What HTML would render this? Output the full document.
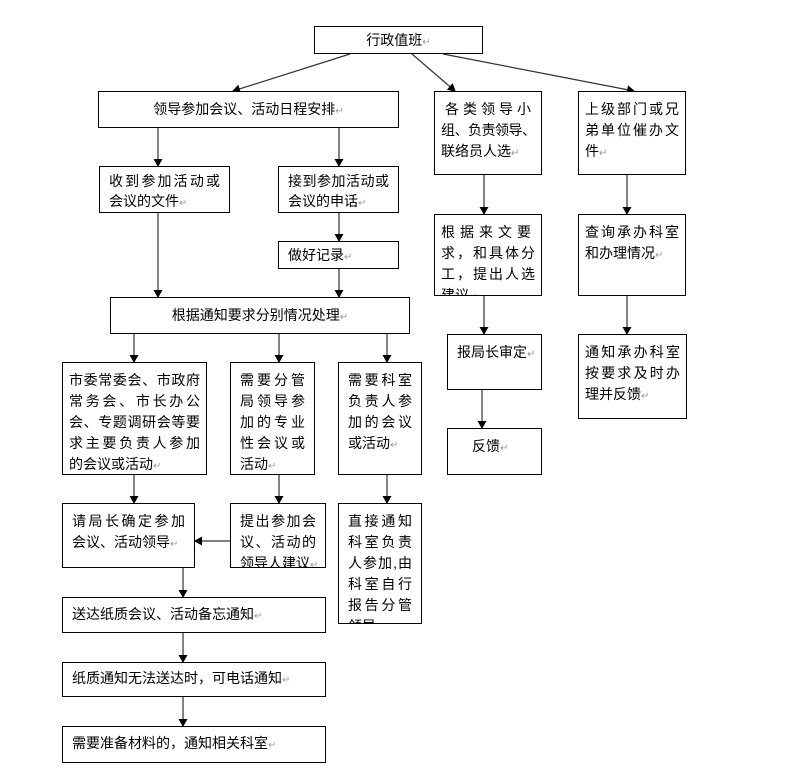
<!DOCTYPE html>
<html><head><meta charset="utf-8"><style>
body{margin:0;width:795px;height:778px;background:#fff;position:relative;overflow:hidden;font-family:"Liberation Sans","Noto Sans CJK SC","WenQuanYi Zen Hei",sans-serif;font-size:14px;color:#000}
.b{position:absolute;border:1.3px solid #000;box-sizing:border-box;background:#fff;line-height:21px;padding:7px 9px 0 9px;overflow:hidden;white-space:nowrap}
.b div{white-space:nowrap}
.n{padding-left:6px;padding-right:6px}
.j{text-align:justify;text-align-last:justify}
.r{color:#999;font-size:10px}
svg{position:absolute;left:0;top:0}
</style></head><body>
<svg width="795" height="778">
<defs><marker id="a" markerWidth="8" markerHeight="9" refX="7" refY="4.5" orient="auto" markerUnits="userSpaceOnUse"><path d="M0,0L8,4.5L0,9z" fill="#000"/></marker></defs>
<g stroke="#333" stroke-width="1.2" fill="none" marker-end="url(#a)">
<line x1="350" y1="54" x2="233" y2="91"/>
<line x1="412" y1="54" x2="455" y2="91"/>
<line x1="443" y1="54" x2="634" y2="91"/>
<line x1="158" y1="128" x2="158" y2="166"/>
<line x1="339" y1="128" x2="339" y2="166"/>
<line x1="339" y1="213" x2="339" y2="241"/>
<line x1="158" y1="213" x2="158" y2="297"/>
<line x1="339" y1="269" x2="339" y2="297"/>
<line x1="134" y1="334" x2="134" y2="362"/>
<line x1="279" y1="334" x2="279" y2="362"/>
<line x1="387" y1="334" x2="387" y2="362"/>
<line x1="134" y1="475" x2="134" y2="503"/>
<line x1="279" y1="475" x2="279" y2="503"/>
<line x1="387" y1="475" x2="387" y2="503"/>
<line x1="230" y1="541" x2="195" y2="541"/>
<line x1="183" y1="568" x2="183" y2="597"/>
<line x1="183" y1="633" x2="183" y2="662"/>
<line x1="183" y1="697" x2="183" y2="726"/>
<line x1="484" y1="175" x2="484" y2="214"/>
<line x1="484" y1="296" x2="484" y2="334"/>
<line x1="482" y1="390" x2="482" y2="428"/>
<line x1="627" y1="175" x2="627" y2="214"/>
<line x1="627" y1="296" x2="627" y2="334"/>
</g></svg>

<div class="b" style="left:314px;top:26px;width:169px;height:28px;padding-top:3px;text-align:center">行政值班<span class="r">↵</span></div>
<div class="b" style="left:98px;top:91px;width:301px;height:37px;padding-top:7px;text-align:center">领导参加会议、活动日程安排<span class="r">↵</span></div>
<div class="b n" style="left:434px;top:91px;width:108px;height:84px"><div class="j" style="padding:0 4px">各类领导小</div><div class="j" style="letter-spacing:-1px">组、负责领导、</div><div>联络员人选<span class="r">↵</span></div></div>
<div class="b n" style="left:578px;top:91px;width:108px;height:84px"><div class="j">上级部门或兄</div><div class="j">弟单位催办文</div><div>件<span class="r">↵</span></div></div>
<div class="b" style="left:99px;top:166px;width:131px;height:47px;line-height:20px;padding-top:4px"><div class="j">收到参加活动或</div><div>会议的文件<span class="r">↵</span></div></div>
<div class="b" style="left:278px;top:166px;width:121px;height:47px;line-height:20px;padding-top:4px"><div class="j">接到参加活动或</div><div>会议的申话<span class="r">↵</span></div></div>
<div class="b" style="left:278px;top:241px;width:121px;height:28px;padding-top:3px">做好记录<span class="r">↵</span></div>
<div class="b" style="left:110px;top:297px;width:300px;height:37px;padding-top:7px;text-align:center">根据通知要求分别情况处理<span class="r">↵</span></div>
<div class="b n" style="left:434px;top:214px;width:108px;height:82px"><div class="j" style="padding-right:4px">根据来文要</div><div class="j">求，和具体分</div><div class="j">工，提出人选</div><div>建议<span class="r">↵</span></div></div>
<div class="b n" style="left:578px;top:214px;width:108px;height:82px"><div class="j">查询承办科室</div><div>和办理情况<span class="r">↵</span></div></div>
<div class="b" style="left:447px;top:334px;width:95px;height:56px">报局长审定<span class="r">↵</span></div>
<div class="b" style="left:447px;top:428px;width:95px;height:47px;padding-left:24px">反馈<span class="r">↵</span></div>
<div class="b n" style="left:578px;top:334px;width:109px;height:85px"><div class="j">通知承办科室</div><div class="j">按要求及时办</div><div>理并反馈<span class="r">↵</span></div></div>
<div class="b n" style="left:62px;top:362px;width:145px;height:113px"><div class="j">市委常委会、市政府</div><div class="j">常务会、市长办公</div><div class="j">会、专题调研会等要</div><div class="j">求主要负责人参加</div><div>的会议或活动<span class="r">↵</span></div></div>
<div class="b" style="left:230px;top:362px;width:85px;height:113px"><div class="j">需要分管</div><div class="j">局领导参</div><div class="j">加的专业</div><div class="j">性会议或</div><div>活动<span class="r">↵</span></div></div>
<div class="b" style="left:338px;top:362px;width:84px;height:113px"><div class="j">需要科室</div><div class="j">负责人参</div><div class="j">加的会议</div><div>或活动<span class="r">↵</span></div></div>
<div class="b" style="left:62px;top:503px;width:133px;height:65px"><div class="j">请局长确定参加</div><div>会议、活动领导<span class="r">↵</span></div></div>
<div class="b" style="left:230px;top:503px;width:96px;height:65px"><div class="j">提出参加会</div><div class="j">议、活动的</div><div>领导人建议<span class="r">↵</span></div></div>
<div class="b" style="left:338px;top:503px;width:84px;height:121px"><div class="j">直接通知</div><div class="j">科室负责</div><div class="j">人参加,由</div><div class="j">科室自行</div><div class="j">报告分管</div><div>领导</div></div>
<div class="b" style="left:62px;top:597px;width:264px;height:36px;padding-top:6px">送达纸质会议、活动备忘通知<span class="r">↵</span></div>
<div class="b" style="left:62px;top:662px;width:264px;height:35px;padding-top:5px">纸质通知无法送达时，可电话通知<span class="r">↵</span></div>
<div class="b" style="left:62px;top:726px;width:264px;height:37px;padding-top:6px">需要准备材料的，通知相关科室<span class="r">↵</span></div>
</body></html>
